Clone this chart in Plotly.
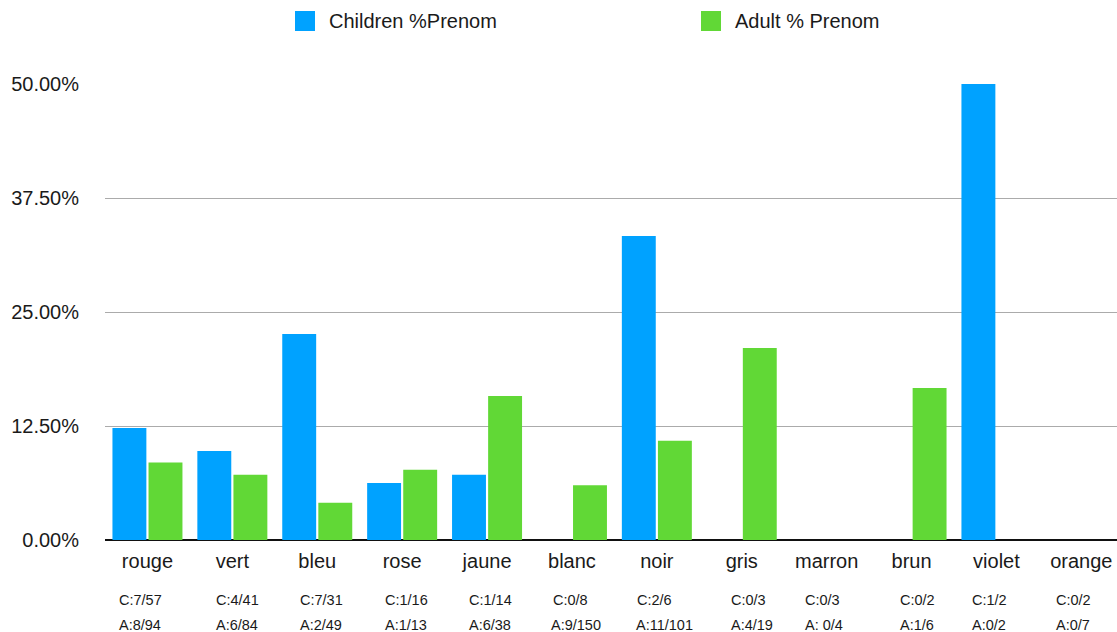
import plotly.graph_objects as go

categories = ["rouge", "vert", "bleu", "rose", "jaune", "blanc", "noir", "gris",
              "marron", "brun", "violet", "orange"]
child_num = [7, 4, 7, 1, 1, 0, 2, 0, 0, 0, 1, 0]
child_den = [57, 41, 31, 16, 14, 8, 6, 3, 3, 2, 2, 2]
adult_num = [8, 6, 2, 1, 6, 9, 11, 4, 0, 1, 0, 0]
adult_den = [94, 84, 49, 13, 38, 150, 101, 19, 4, 6, 2, 7]
child_labels = ["C:7/57", "C:4/41", "C:7/31", "C:1/16", "C:1/14", "C:0/8", "C:2/6",
                "C:0/3", "C:0/3", "C:0/2", "C:1/2", "C:0/2"]
adult_labels = ["A:8/94", "A:6/84", "A:2/49", "A:1/13", "A:6/38", "A:9/150", "A:11/101",
                "A:4/19", "A: 0/4", "A:1/6", "A:0/2", "A:0/7"]
tick_vals = [0, 12.5, 25, 37.5, 50]
tick_text = ["0.00%", "12.50%", "25.00%", "37.50%", "50.00%"]

child_pct = [n / d * 100 for n, d in zip(child_num, child_den)]
adult_pct = [n / d * 100 for n, d in zip(adult_num, adult_den)]

BLUE = "#00A2FF"
GREEN = "#61D836"
FONT = "Liberation Sans, Arial, sans-serif"
TXT = "#1a1a1a"

W, H = 1117, 632
L, R, T, B = 105, 0, 84, 92
PW = W - L - R
PH = H - T - B


def px_x(p):
    return (p - L) / PW


def px_y(p):
    return (H - B - p) / PH


fig = go.Figure()
fig.add_trace(go.Bar(x=list(range(len(categories))), y=child_pct, name="Children %Prenom",
                     marker=dict(color=BLUE, line=dict(width=0))))
fig.add_trace(go.Bar(x=list(range(len(categories))), y=adult_pct, name="Adult % Prenom",
                     marker=dict(color=GREEN, line=dict(width=0))))

# per-category small text offsets (pixels) for the count annotations
c_shift = [-30, -18, -19, -19, -20, -21, -22, -13, -24, -14, -26, -27]
a_shift = [-30, -18, -19, -19, -20, -23, -23, -13, -24, -14, -26, -27]

annotations = []
for i in range(len(categories)):
    annotations.append(dict(x=i, y=px_y(600), xref="x", yref="paper", text=child_labels[i],
                            showarrow=False, xanchor="left", yanchor="middle", xshift=c_shift[i],
                            font=dict(family=FONT, size=14.5, color=TXT)))
    annotations.append(dict(x=i, y=px_y(625), xref="x", yref="paper", text=adult_labels[i],
                            showarrow=False, xanchor="left", yanchor="middle", xshift=a_shift[i],
                            font=dict(family=FONT, size=14.5, color=TXT)))

# custom legend
shapes = []
for (sx, color, name, tx) in [(295, BLUE, "Children %Prenom", 327), (701, GREEN, "Adult % Prenom", 733)]:
    shapes.append(dict(type="rect", xref="paper", yref="paper",
                       x0=px_x(sx), x1=px_x(sx + 20), y0=px_y(31), y1=px_y(11),
                       fillcolor=color, line=dict(width=0)))
    annotations.append(dict(x=px_x(tx), y=px_y(21), xref="paper", yref="paper", text=name,
                            showarrow=False, xanchor="left", yanchor="middle",
                            font=dict(family=FONT, size=20, color=TXT)))

fig.update_layout(
    width=W, height=H,
    margin=dict(l=L, r=R, t=T, b=B, pad=0),
    paper_bgcolor="white", plot_bgcolor="white",
    barmode="group", bargap=0.15, bargroupgap=0.06,
    showlegend=False,
    font=dict(family=FONT, size=20, color=TXT),
    xaxis=dict(range=[-0.5, 11.42], tickmode="array", tickvals=list(range(len(categories))),
               ticktext=categories, showgrid=False, zeroline=False, showline=False,
               ticks="", ticklabelstandoff=7, tickfont=dict(size=20, color=TXT)),
    yaxis=dict(range=[0, 50], tickmode="array", tickvals=tick_vals, ticktext=tick_text,
               showgrid=True, gridcolor="#ababab", gridwidth=1, zeroline=True,
               zerolinecolor="#111111", zerolinewidth=2, showline=False, ticks="",
               ticklabelstandoff=25, tickfont=dict(size=20, color=TXT)),
    shapes=shapes,
    annotations=annotations,
)

fig.write_html("out.html")
